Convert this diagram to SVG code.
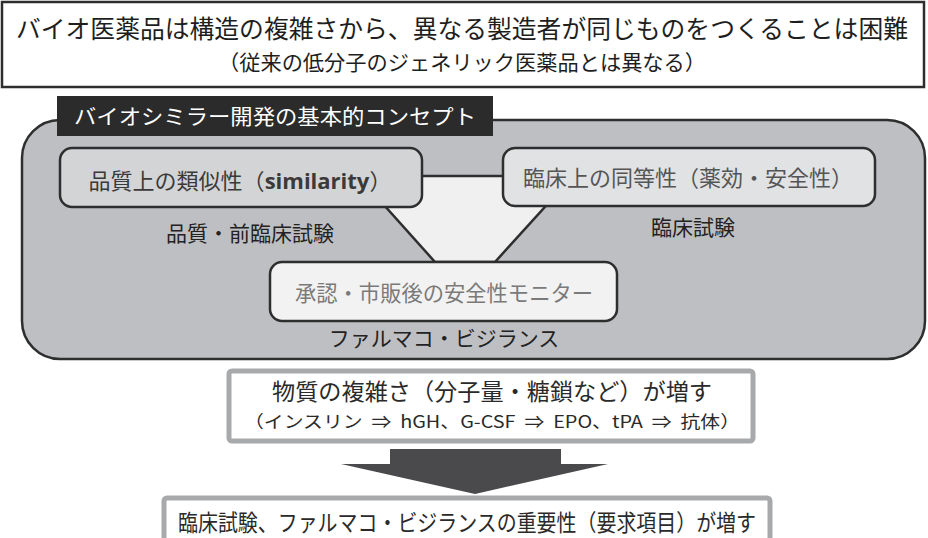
<svg xmlns="http://www.w3.org/2000/svg" width="928" height="538" viewBox="0 0 928 538">
<style>
text{font-family:"Noto Sans CJK JP","Noto Sans",sans-serif;text-anchor:middle}
.ln{stroke:#2e2e2e;stroke-width:2.5}
.lbl{font-size:21px;fill:#222}
.gbox{fill:#fff;stroke:#a8a9ab;stroke-width:5}
</style>
<rect width="928" height="538" fill="#fff"/>
<g id="header">
<rect x="2" y="2" width="922" height="85" fill="#fff" class="ln"/>
<text x="462" y="38" font-size="24.5" fill="#1e1e1e" textLength="892" lengthAdjust="spacingAndGlyphs">バイオ医薬品は構造の複雑さから、異なる製造者が同じものをつくることは困難</text>
<text x="462" y="70" font-size="21" fill="#1e1e1e" textLength="488" lengthAdjust="spacingAndGlyphs">（従来の低分子のジェネリック医薬品とは異なる）</text>
</g>
<g id="concept">
<rect x="22" y="120" width="903" height="239" rx="38" fill="#bebfc3" class="ln"/>
<rect x="57" y="96" width="436" height="40" fill="#2b2b2b"/>
<text x="275" y="124" font-size="21" fill="#fff" textLength="402" lengthAdjust="spacingAndGlyphs">バイオシミラー開発の基本的コンセプト</text>
</g>
<g id="connectors">
<polygon points="358,176 573,176 495,262 435,262" fill="#f0f0f0" class="ln"/>
</g>
<g id="quality">
<rect x="60" y="148" width="362" height="59" rx="12" fill="#d3d4d6" class="ln"/>
<text x="240" y="189" font-size="22" fill="#3a3a3a">品質上の類似性（<tspan font-weight="bold" font-family="'Open Sans','Noto Sans',sans-serif">similarity</tspan>）</text>
<text x="250" y="241" class="lbl">品質・前臨床試験</text>
</g>
<g id="clinical">
<rect x="503" y="148" width="372" height="58" rx="12" fill="#e1e2e4" class="ln"/>
<text x="688" y="186" font-size="22" fill="#555" textLength="330" lengthAdjust="spacingAndGlyphs">臨床上の同等性（薬効・安全性）</text>
<text x="693" y="235" class="lbl">臨床試験</text>
</g>
<g id="postmarket">
<rect x="270" y="262" width="347" height="59" rx="12" fill="#f2f2f2" class="ln"/>
<text x="444" y="301" font-size="22" fill="#7a7a7a" textLength="298" lengthAdjust="spacingAndGlyphs">承認・市販後の安全性モニター</text>
<text x="444" y="346" class="lbl">ファルマコ・ビジランス</text>
</g>
<g id="complexity">
<rect x="229" y="371" width="524" height="70" rx="3" class="gbox"/>
<text x="492" y="400" font-size="23" fill="#2a2a2a" textLength="440" lengthAdjust="spacingAndGlyphs">物質の複雑さ（分子量・糖鎖など）が増す</text>
<text x="492" y="428" font-size="17" fill="#2a2a2a" textLength="496" lengthAdjust="spacingAndGlyphs">（インスリン&#160;&#160;⇒&#160;&#160;hGH、G-CSF&#160;&#160;⇒&#160;&#160;EPO、tPA&#160;&#160;⇒&#160;&#160;抗体）</text>
</g>
<g id="arrow">
<polygon points="390,449 561,449 561,464 608,464 475,494 341,464 390,464" fill="#4a4a4d"/>
</g>
<g id="importance">
<rect x="164" y="498" width="606" height="60" rx="3" class="gbox"/>
<text x="467" y="531" font-size="23" fill="#2a2a2a" textLength="578" lengthAdjust="spacingAndGlyphs">臨床試験、ファルマコ・ビジランスの重要性（要求項目）が増す</text>
</g>
</svg>
